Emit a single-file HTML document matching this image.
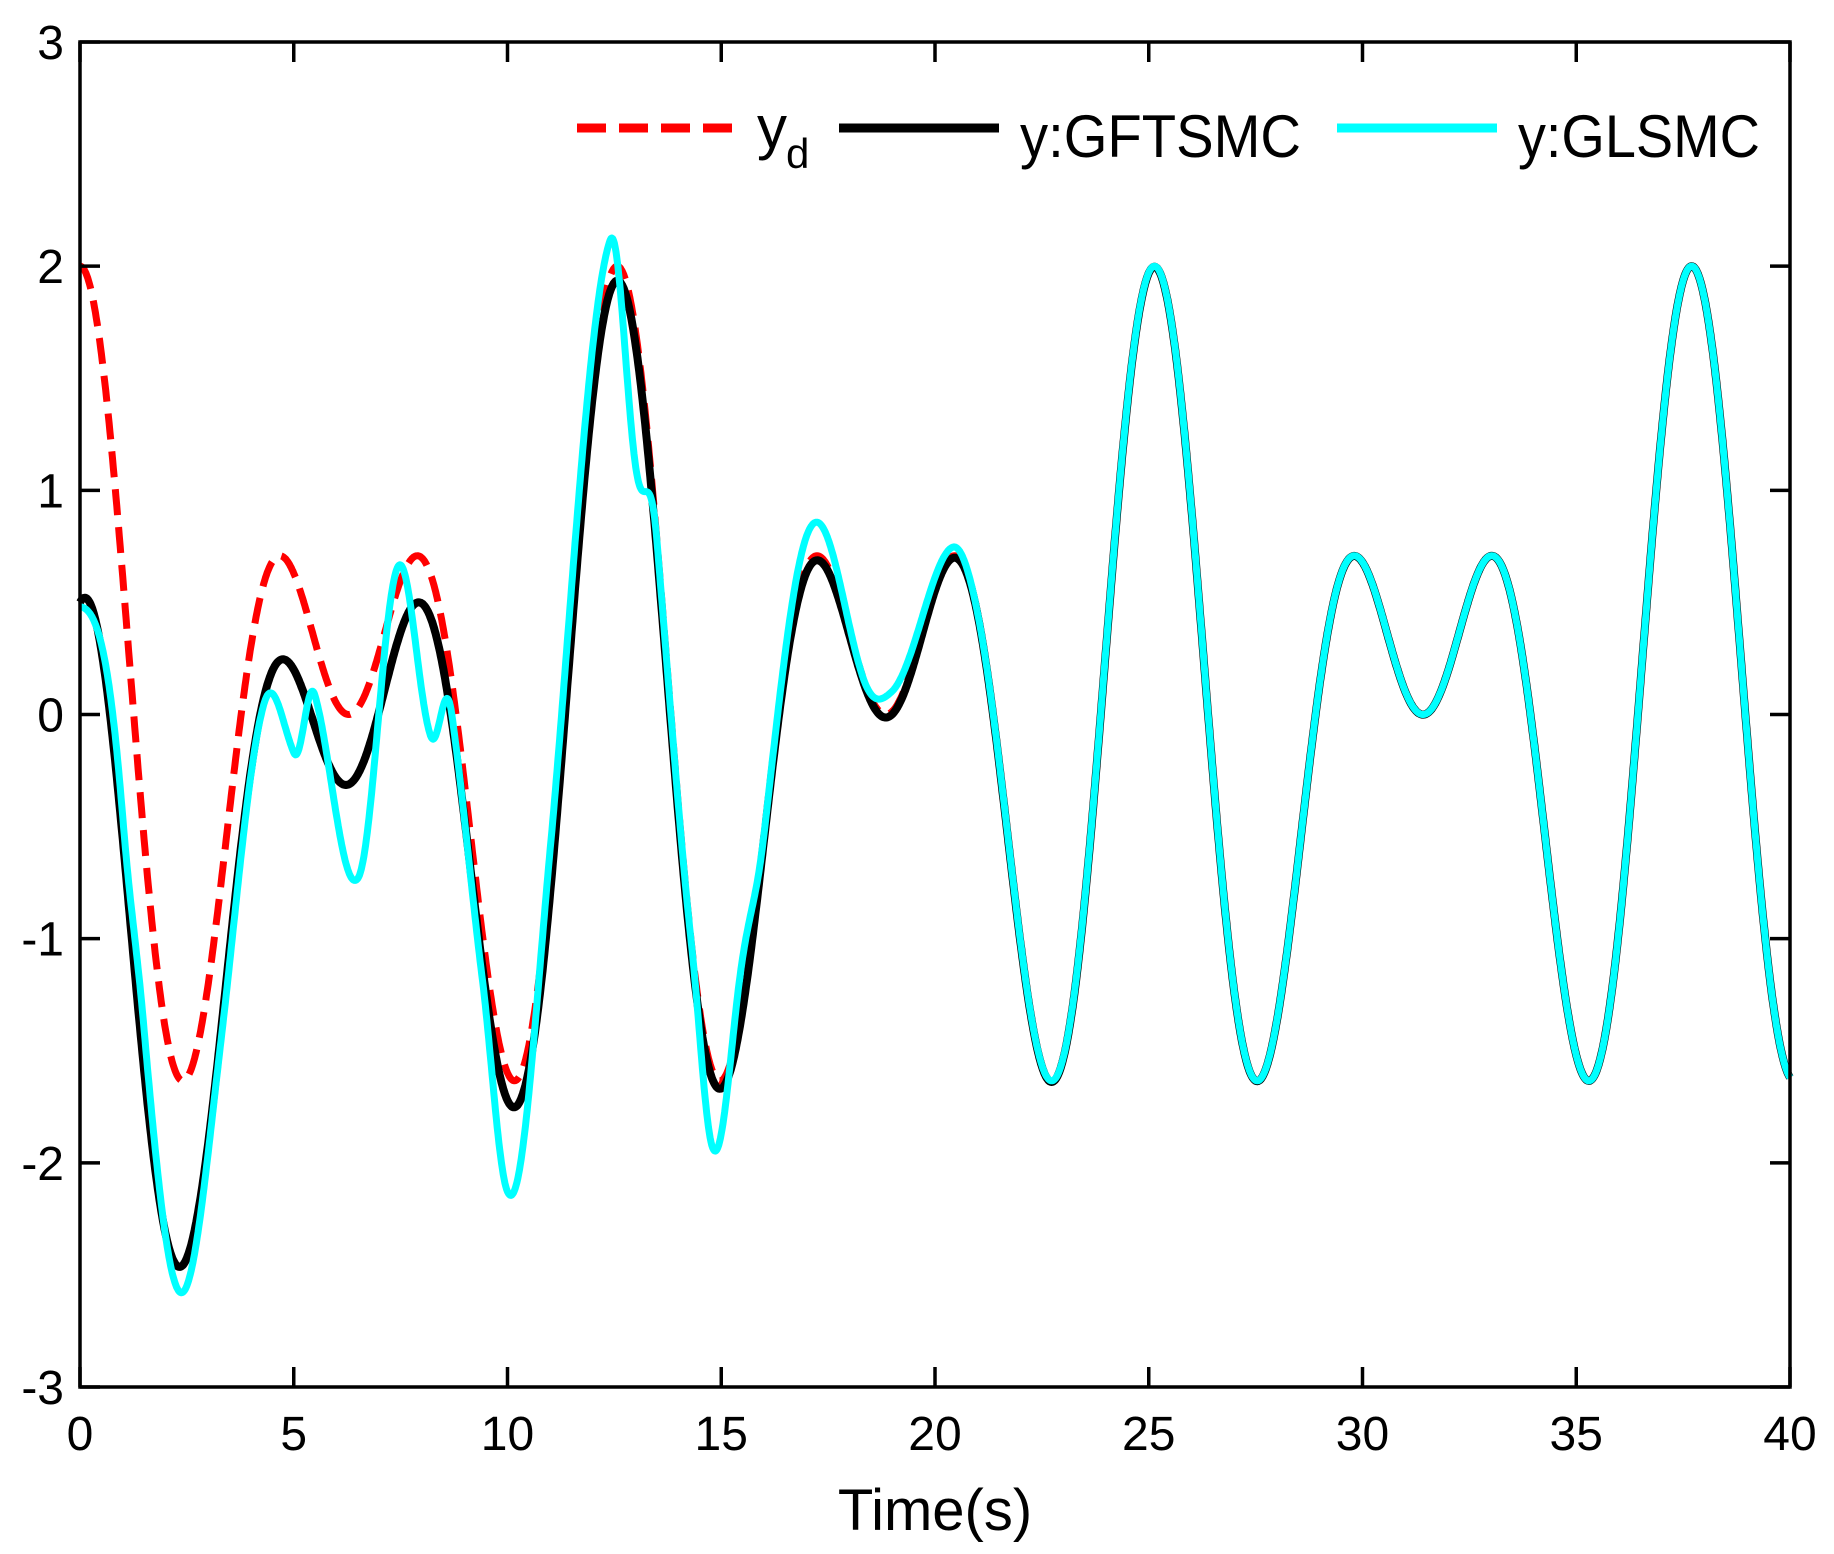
<!DOCTYPE html>
<html><head><meta charset="utf-8"><style>
html,body{margin:0;padding:0;background:#fff;}
svg{display:block;}
text{font-family:"Liberation Sans",Arial,sans-serif;fill:#000;}
</style></head><body>
<svg id="s" width="1834" height="1554" viewBox="0 0 1834 1554" xmlns="http://www.w3.org/2000/svg">
<g id="plot"></g>
<rect x="80" y="42" width="1710" height="1345" fill="none" stroke="#000" stroke-width="3.5"/>
<g id="ticks" stroke="#000" stroke-width="3.5"></g>
<g id="labels" font-size="48"></g>
<text x="935" y="1530" font-size="58" text-anchor="middle">Time(s)</text>
<line x1="577" y1="128" x2="736" y2="128" stroke="#f00" stroke-width="9" stroke-dasharray="29,13"/>
<text x="757" y="148" font-size="60">y</text>
<text x="786" y="168" font-size="42">d</text>
<line x1="839" y1="128" x2="999" y2="128" stroke="#000" stroke-width="9"/>
<text x="1020" y="157" font-size="60" textLength="281" lengthAdjust="spacingAndGlyphs">y:GFTSMC</text>
<line x1="1337" y1="128" x2="1497" y2="128" stroke="#0ff" stroke-width="9"/>
<text x="1518" y="157" font-size="60" textLength="242" lengthAdjust="spacingAndGlyphs">y:GLSMC</text>
</svg>
<script>
var X0=80,X1=1790,Y0=42,Y1=1387;
function px(t){return X0+t*(X1-X0)/40;}
function py(v){return Y1-(v+3)*(Y1-Y0)/6;}
function yd(t){return Math.cos(t)+Math.cos(1.5*t);}
var ec=[[0,-1.52],[1,-1.07],[1.5,-0.85],[2.3,-0.95],[3.3,-0.7],[4.3,-0.54],[5,-0.8],[5.5,-0.24],[6.5,-0.76],[7.4,0.1],[8.2,-0.72],[8.7,-0.14],[9.4,-0.2],[10,-0.53],[11,0.1],[12.4,0.16],[13,-0.6],[13.5,0],[14.3,0],[14.8,-0.34],[15.5,0.2],[16,0],[17.2,0.15],[18.3,0],[19,0.09],[20.4,0.04],[21,0],[40,0]];
function interp(t){for(var i=0;i<ec.length-1;i++){var a=ec[i],b=ec[i+1];if(t>=a[0]&&t<=b[0]){var u=(t-a[0])/(b[0]-a[0]);u=(1-Math.cos(Math.PI*u))/2;return a[1]+(b[1]-a[1])*u;}}return 0;}
function path(f){var d="";for(var t=0;t<=40.0001;t+=0.02){d+=(t==0?"M":"L")+px(t).toFixed(1)+","+py(f(t)).toFixed(1);}return d;}
var g=document.getElementById("plot"),NS="http://www.w3.org/2000/svg";
function add(d,c,w,da){var p=document.createElementNS(NS,"path");p.setAttribute("d",d);p.setAttribute("fill","none");p.setAttribute("stroke",c);p.setAttribute("stroke-width",w);p.setAttribute("stroke-linejoin","round");if(da)p.setAttribute("stroke-dasharray",da);g.appendChild(p);}
add(path(yd),"#f00",7,"26,12");
add(path(function(t){return yd(t)-1.5*Math.exp(-0.25*t);}),"#000",8);
add(path(function(t){return yd(t)+interp(t);}),"#0ff",7);
var tk=document.getElementById("ticks"),lb=document.getElementById("labels");
function ln(a,b,c,d){var l=document.createElementNS(NS,"line");l.setAttribute("x1",a);l.setAttribute("y1",b);l.setAttribute("x2",c);l.setAttribute("y2",d);tk.appendChild(l);}
function tx(x,y,s,anc){var t=document.createElementNS(NS,"text");t.setAttribute("x",x);t.setAttribute("y",y);t.setAttribute("text-anchor",anc);t.textContent=s;lb.appendChild(t);}
for(var t=0;t<=40;t+=5){var x=px(t);ln(x,Y1,x,Y1-20);ln(x,Y0,x,Y0+20);tx(x,1450,String(t),"middle");}
for(var v=-3;v<=3;v++){var y=py(v);ln(X0,y,X0+20,y);ln(X1,y,X1-20,y);tx(64,y+17,String(v),"end");}
</script>
</body></html>
